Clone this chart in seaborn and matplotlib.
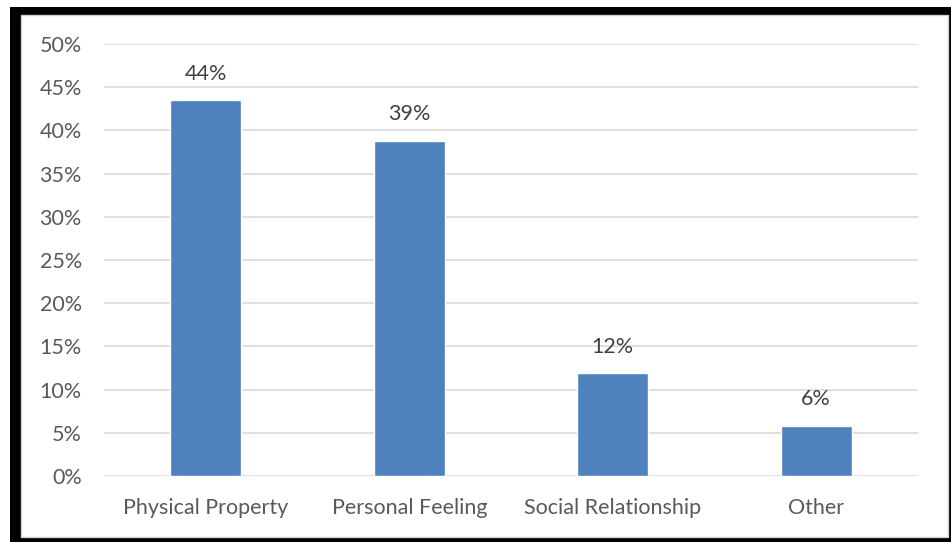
import matplotlib
matplotlib.use("Agg")
import matplotlib.pyplot as plt
import seaborn as sns
import pandas as pd
from matplotlib.patches import Rectangle

categories = ["Physical Property", "Personal Feeling", "Social Relationship", "Other"]
values = [43.5, 38.8, 11.9, 5.8]
labels = ["44%", "39%", "12%", "6%"]
yticks = [0, 5, 10, 15, 20, 25, 30, 35, 40, 45, 50]

sns.set_theme(style="white")
plt.rcParams['font.family'] = ['Lato', 'DejaVu Sans']

W, H = 951, 542
fig = plt.figure(figsize=(W / 100, H / 100), dpi=100)
fig.patch.set_facecolor("white")
# black frame (shadow border)
fig.patches.append(Rectangle((10 / W, 0), 1 - 10 / W, 1 - 7 / H, transform=fig.transFigure,
                             facecolor="black", edgecolor="none", zorder=-3))
fig.patches.append(Rectangle((21 / W, 5 / H), (948 - 21) / W, (537 - 15) / H, transform=fig.transFigure,
                             facecolor="white", edgecolor="#D0D0D0", linewidth=1, zorder=-2))

ax = fig.add_axes([104 / W, (H - 476) / H, (918 - 104) / W, (476 - 44) / H])
ax.set_facecolor("none")
ax.patch.set_alpha(0)
df = pd.DataFrame({"cat": categories, "val": values})
sns.barplot(data=df, x="cat", y="val", color="#4F81BD", saturation=1, width=0.35, ax=ax, zorder=3)

ax.set_ylim(0, 50)
ax.set_yticks(yticks)
ax.set_yticklabels([f"{t}%" for t in yticks])
ax.yaxis.grid(True, color="#D9D9D9", linewidth=1.2, zorder=0)
ax.set_axisbelow(True)
for s in ax.spines.values():
    s.set_visible(False)
ax.set_xlabel("")
ax.set_ylabel("")
ax.tick_params(axis="y", length=0, pad=16, labelsize=15.5, labelcolor="#595959")
ax.tick_params(axis="x", length=0, pad=16, labelsize=15.5, labelcolor="#595959")

for i, (v, lab) in enumerate(zip(values, labels)):
    ax.annotate(lab, (i, v), xytext=(0, 19), textcoords="offset points",
                ha="center", va="center", fontsize=15.5, color="#404040")

fig.savefig("out.png", dpi=100, facecolor=fig.get_facecolor())
